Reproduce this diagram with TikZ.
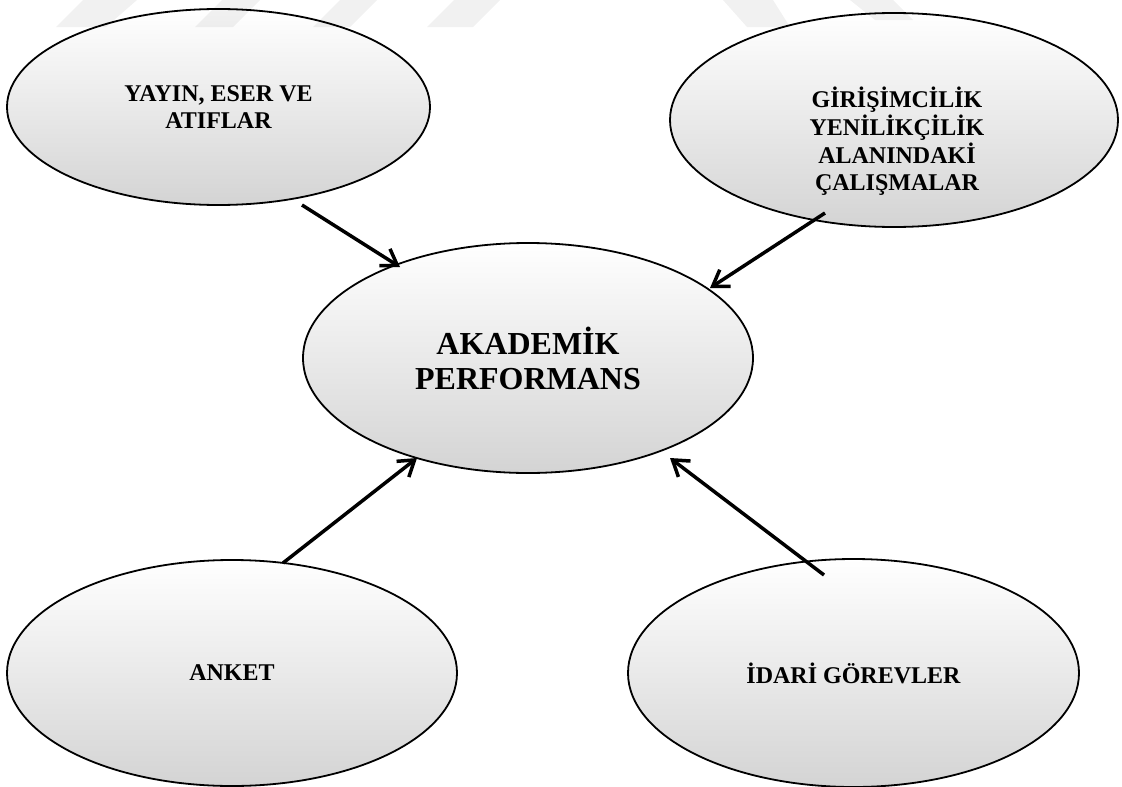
\documentclass[tikz,border=0pt]{standalone}
\usepackage{fontspec}
\setmainfont{Liberation Serif}
\usetikzlibrary{arrows.meta,shapes.geometric,calc}
\begin{document}
\begin{tikzpicture}[x=1pt,y=-1pt,
  bubble/.style={ellipse, draw=black, line width=1.8pt, inner sep=0pt,
    top color=white, middle color=white!98!black, bottom color=black!17,
    align=center, font=\bfseries\fontsize{24}{27.7}\selectfont},
  bigtxt/.style={font=\bfseries\fontsize{32}{35}\selectfont},
  txt/.style={align=center, inner sep=0pt, font=\bfseries\fontsize{24}{27.7}\selectfont},
  arr/.style={line width=3.5pt, -{Straight Barb[length=15pt,width=20pt]}},
  wm/.style={fill=black, opacity=0.055, draw=none}]
\useasboundingbox[fill=white] (0,0) rectangle (1122,787);

% ellipses
\node[bubble, minimum width=423pt, minimum height=196pt] (tl) at (218.5,107) {YAYIN, ESER VE\\ATIFLAR};
\node[bubble, minimum width=448pt, minimum height=214pt] (tr) at (894,120) {};
\node[txt] (trtext) at (897,141.5) {GİRİŞİMCİLİK\\YENİLİKÇİLİK\\ALANINDAKİ\\ÇALIŞMALAR};
\node[bubble, bigtxt, minimum width=450pt, minimum height=230pt] (c) at (528,358) {AKADEMİK\\PERFORMANS};
\node[bubble, minimum width=450pt, minimum height=226pt] (bl) at (232,673) {ANKET};
\node[bubble, minimum width=451pt, minimum height=228pt] (br) at (853.5,673) {İDARİ GÖREVLER};

% connector end points
\coordinate (s1) at ($(tl.center)+(83.5,98)$);
\coordinate (t1) at ($(c.center)+(-128,-91)$);
\coordinate (s2) at ($(tr.center)+(-69,93)$);
\coordinate (t2) at ($(c.center)+(182,-70)$);
\coordinate (s3) at ($(bl.center)+(51,-110)$);
\coordinate (t3) at ($(c.center)+(-111,100)$);
\coordinate (s4) at ($(br.center)+(-29.5,-98)$);
\coordinate (t4) at ($(c.center)+(142,100)$);

\draw[arr] (s1) -- (t1);
\draw[arr] (s2) -- (t2);
\draw[arr] (s3) -- (t3);
\draw[arr] (s4) -- (t4);

% faint watermark bars
\fill[wm] (56,27) -- (106,27) -- (137,0) -- (83,0) -- cycle;
\fill[wm] (195,27) -- (233,27) -- (260,0) -- (222,0) -- cycle;
\fill[wm] (313,27) -- (350,27) -- (377,0) -- (340,0) -- cycle;
\fill[wm] (427,27) -- (473,27) -- (500,0) -- (454,0) -- cycle;
\fill[wm] (723,0) -- (773,0) -- (790,27) -- (747,27) -- cycle;
\fill[wm] (850,0) -- (893,0) -- (913,20) -- (875,20) -- cycle;
\end{tikzpicture}
\end{document}
